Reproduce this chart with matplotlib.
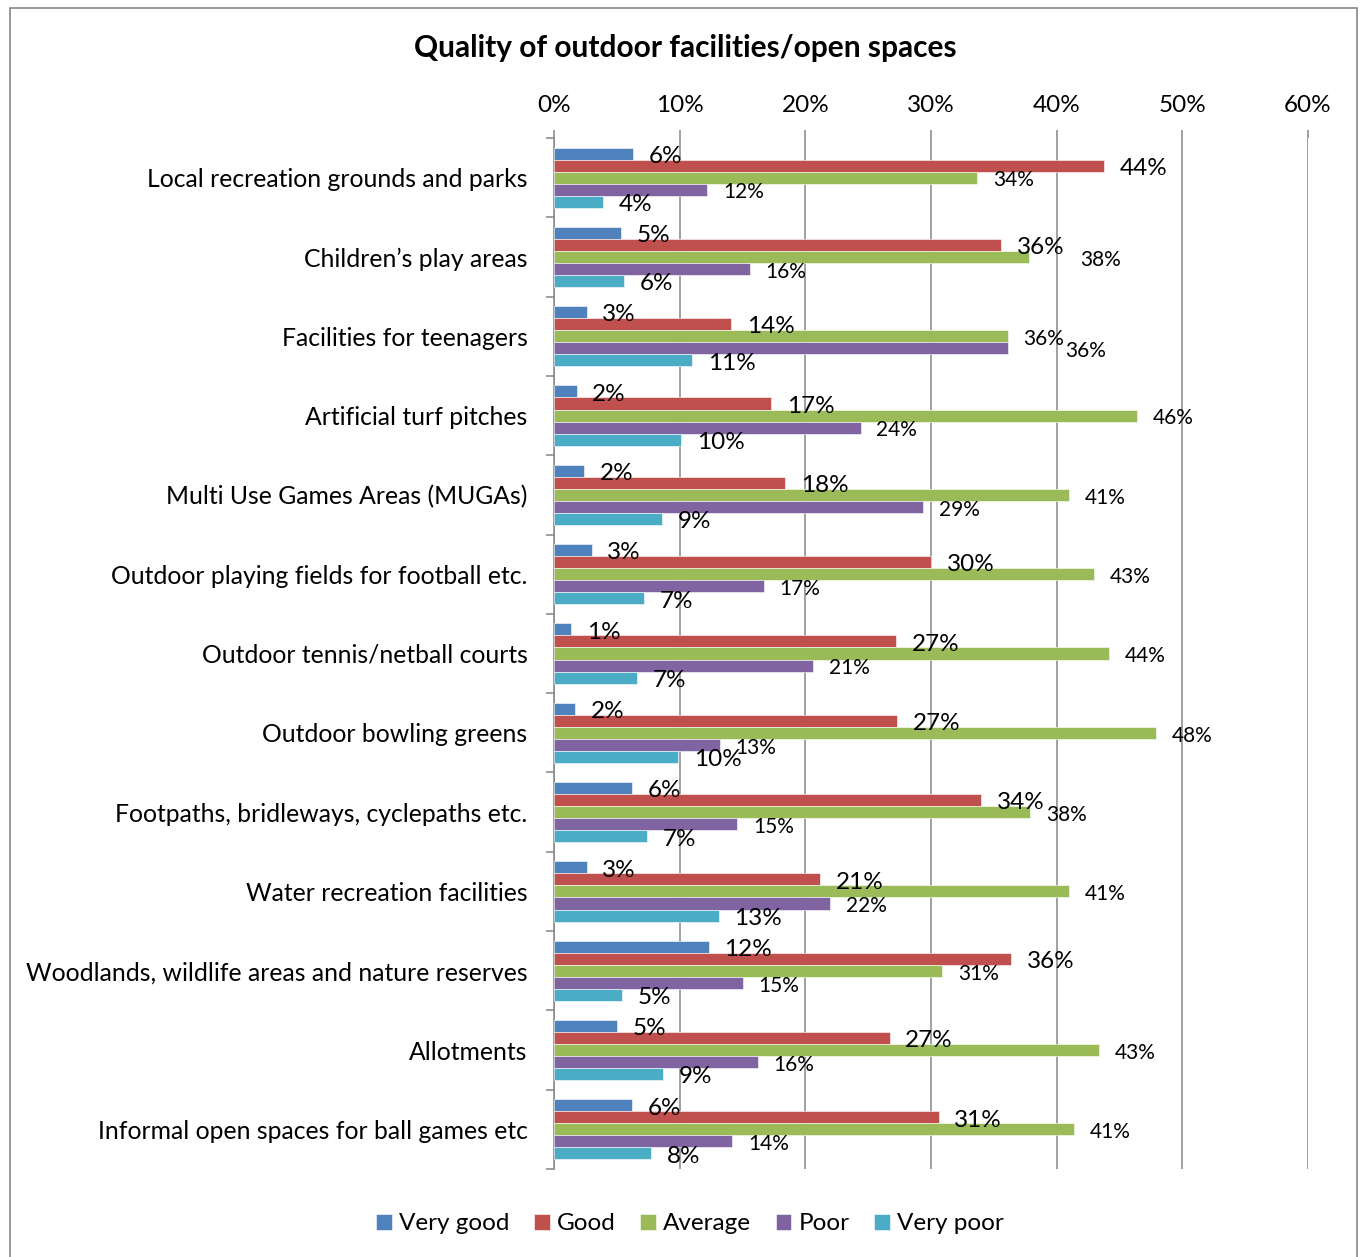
import numpy as np
import matplotlib.pyplot as plt
from matplotlib.patches import Rectangle

plt.rcParams['font.family'] = ['Lato', 'DejaVu Sans']

# categories, top to bottom
categories = [
    'Local recreation grounds and parks',
    'Children\u2019s play areas',
    'Facilities for teenagers',
    'Artificial turf pitches',
    'Multi Use Games Areas (MUGAs)',
    'Outdoor playing fields for football etc.',
    'Outdoor tennis/netball courts',
    'Outdoor bowling greens',
    'Footpaths, bridleways, cyclepaths etc.',
    'Water recreation facilities',
    'Woodlands, wildlife areas and nature reserves',
    'Allotments',
    'Informal open spaces for ball games etc',
]

series_names = ['Very good', 'Good', 'Average', 'Poor', 'Very poor']

very_good = [6.3, 5.3, 2.6, 1.8, 2.4, 3.0, 1.35, 1.7, 6.2, 2.6, 12.3, 5.0, 6.2]
good = [43.8, 35.6, 14.1, 17.3, 18.4, 30.0, 27.2, 27.3, 34.0, 21.2, 36.4, 26.7, 30.6]
average = [33.7, 37.8, 36.1, 46.4, 41.0, 43.0, 44.2, 47.9, 37.9, 41.0, 30.9, 43.4, 41.4]
poor = [12.2, 15.6, 36.1, 24.4, 29.4, 16.7, 20.6, 13.2, 14.6, 22.0, 15.0, 16.2, 14.2]
very_poor = [3.9, 5.6, 11.0, 10.1, 8.6, 7.2, 6.6, 9.9, 7.4, 13.1, 5.4, 8.7, 7.7]

colors = ['#4F81BD', '#C0504D', '#9BBB59', '#8064A2', '#4BACC6']
label_sizes = [17.5, 17.5, 15, 15, 17.5]
# labels that were pushed aside in the original to avoid overlap
nudge = {(1, 2): 2.8, (2, 3): 3.3}

fig = plt.figure(figsize=(13.6, 12.57), dpi=100)
ax = fig.add_axes([554 / 1360, 1 - 1169 / 1257, 754 / 1360, (1169 - 138) / 1257])

all_series = [very_good, good, average, poor, very_poor]
n = len(categories)
y = np.arange(n)
bh = 0.152
for i, (vals, name, c) in enumerate(zip(all_series, series_names, colors)):
    pos = y + (i - 2) * bh
    ax.barh(pos, vals, height=bh, color=c, label=name, edgecolor='white', linewidth=0.4, zorder=3)
    for j, (p, v) in enumerate(zip(pos, vals)):
        ax.text(v + 1.25 + nudge.get((j, i), 0), p + 0.035, f'{v:.0f}%', va='center', ha='left',
                fontsize=label_sizes[i], color='black', zorder=4)

ax.set_xlim(0, 60)
ax.set_ylim(n - 0.5, -0.5)
ax.xaxis.tick_top()
ax.set_xticks(np.arange(0, 61, 10))
ax.set_xticklabels([f'{t}%' for t in range(0, 61, 10)])
ax.tick_params(axis='x', length=6, color='#868686', width=1.1, pad=10, labelsize=17.5)
ax.grid(axis='x', color='#868686', linewidth=1.1, zorder=0)

ax.set_yticks(np.arange(-0.5, n, 1))
ax.set_yticklabels([])
ax.set_yticks(y, minor=True)
ax.set_yticklabels(categories, minor=True)
ax.tick_params(axis='y', which='major', length=6, color='#868686', width=1.1)
ax.tick_params(axis='y', which='minor', length=0, pad=19, labelsize=17.8)

for s in ['top', 'right', 'bottom']:
    ax.spines[s].set_visible(False)
ax.spines['left'].set_color('#868686')
ax.spines['left'].set_linewidth(1.1)

fig.text(685 / 1360, 1 - 48 / 1257, 'Quality of outdoor facilities/open spaces',
         ha='center', va='center', fontsize=21.5, fontweight='bold')

fig.legend(loc='center', bbox_to_anchor=(690 / 1360, 1 - 1224 / 1257), ncol=5,
           frameon=False, fontsize=17.5, handlelength=0.65, handleheight=0.65,
           handletextpad=0.3, columnspacing=1.0)

fig.patches.append(Rectangle((10 / 1360, -0.01), 1347 / 1360, 1 - 8 / 1257 + 0.01,
                             transform=fig.transFigure, fill=False,
                             edgecolor='#868686', linewidth=1.2))

fig.savefig('out.png', dpi=100)
